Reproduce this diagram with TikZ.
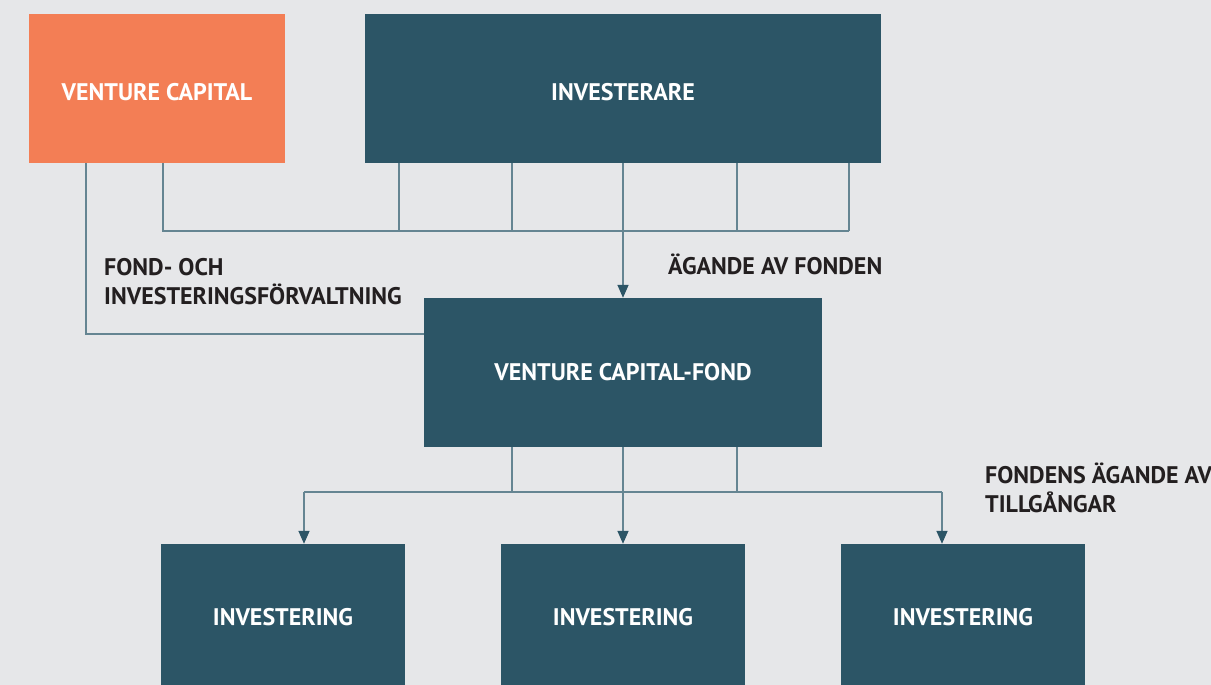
\documentclass[tikz,border=0pt]{standalone}
\usepackage{fontspec}
\setmainfont{PT Sans}
\usetikzlibrary{arrows.meta,calc}
\definecolor{bg}{HTML}{E6E7E9}
\definecolor{teal}{HTML}{2C5566}
\definecolor{orng}{HTML}{F37E55}
\definecolor{linec}{HTML}{658592}
\definecolor{txt}{HTML}{231F20}
\tikzset{
  box/.style={draw=none,fill=teal,text=white,font=\bfseries\fontsize{24}{29}\selectfont,inner sep=0pt},
  lowtext/.style={text height=24pt,text depth=0pt},
  conn/.style={draw=linec,line width=1.6pt},
  arr/.style={conn,-{Triangle[width=11pt,length=13pt,color=teal]}},
  lbl/.style={text=txt,font=\bfseries\fontsize{24}{29}\selectfont,align=left,inner sep=0pt,anchor=base west}
}
\begin{document}
\begin{tikzpicture}[x=1pt,y=-1pt]
\fill[bg] (0,0) rectangle (1211,685);
\useasboundingbox (0,0) rectangle (1211,685);
\node[box,lowtext,fill=orng,minimum width=256pt,minimum height=149pt] (vc) at (157,88.5) {VENTURE CAPITAL};
\node[box,lowtext,minimum width=516pt,minimum height=149pt] (inv) at (623,88.5) {INVESTERARE};
\node[box,minimum width=398pt,minimum height=149pt] (fond) at (623,372.5) {VENTURE CAPITAL-FOND};
\node[box,minimum width=244pt,minimum height=146pt] (i1) at (283,617) {INVESTERING};
\node[box,minimum width=244pt,minimum height=146pt] (i2) at (623,617) {INVESTERING};
\node[box,minimum width=244pt,minimum height=146pt] (i3) at (963,617) {INVESTERING};
% top connectors
\coordinate (busR) at (849,231);
\coordinate (bus2L) at (304,492);
\coordinate (bus2R) at (942,492);
\draw[conn] ($(vc.south)+(-71,0)$) |- ($(fond.north west)+(0,36)$);
\draw[conn] ($(vc.south)+(6,0)$) |- (busR);
\foreach \dx in {-224,-111,114,226} {
  \draw[conn] ($(inv.south)+(\dx,0)$) -- ++(0,68);
}
\draw[arr] (inv.south) -- (fond.north);
% bottom connectors
\draw[conn] ($(fond.south)+(-111,0)$) -- ++(0,45);
\draw[conn] ($(fond.south)+(114,0)$) -- ++(0,45);
\draw[conn] (bus2L) -- (bus2R);
\draw[arr] (bus2L) -- (bus2L |- i1.north);
\draw[arr] (bus2R) -- (bus2R |- i3.north);
\draw[arr] (fond.south) -- (i2.north);
% labels
\node[lbl] (l1) at (104,304) {FOND- OCH\\INVESTERINGSFÖRVALTNING};
\node[lbl] (l2) at (668,274) {ÄGANDE AV FONDEN};
\node[lbl] (l3) at (985,512) {FONDENS ÄGANDE AV\\TILLGÅNGAR};
\end{tikzpicture}
\end{document}
